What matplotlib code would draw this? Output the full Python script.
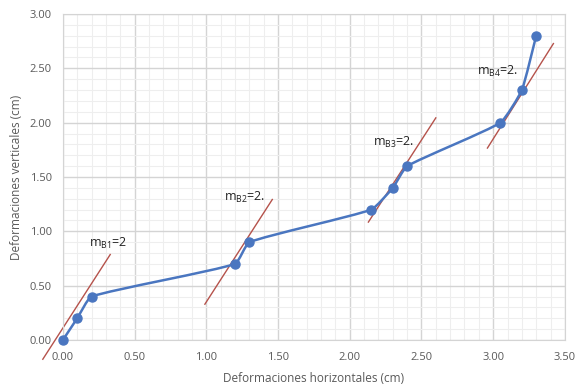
import numpy as np
import matplotlib
matplotlib.use("Agg")
import matplotlib.pyplot as plt
from matplotlib.path import Path
from matplotlib.patches import PathPatch

# ========== DATA ==========
def_h = [0.00, 0.10, 0.20, 1.20, 1.30, 2.15, 2.30, 2.40, 3.05, 3.20, 3.30]
def_v = [0.00, 0.20, 0.40, 0.70, 0.90, 1.20, 1.40, 1.60, 2.00, 2.30, 2.80]

# tangent lines: (x start, x end, slope, intercept)
tan_x0 = [-0.14, 0.99, 2.13, 2.96]
tan_x1 = [0.33, 1.46, 2.60, 3.42]
tan_m = [2.05, 2.05, 2.04, 2.09]
tan_b = [0.11, -1.70, -3.26, -4.42]

labels = ["m$_{B1}$=2", "m$_{B2}$=2.", "m$_{B3}$=2.", "m$_{B4}$=2."]
label_x = [0.18, 1.12, 2.16, 2.89]
label_y = [0.89, 1.31, 1.82, 2.47]

x_ticks = np.arange(0, 3.51, 0.5)
y_ticks = np.arange(0, 3.01, 0.5)

plt.rcParams["font.family"] = ["Open Sans", "DejaVu Sans"]
plt.rcParams["mathtext.fontset"] = "custom"
plt.rcParams["mathtext.rm"] = "Open Sans"
plt.rcParams["mathtext.it"] = "Open Sans"

fig = plt.figure(figsize=(5.77, 3.89), dpi=100)
ax = fig.add_axes([0.109, 0.126, 0.870, 0.838])

blue = "#4a76c0"
red = "#b5524b"
grey = "#595959"


# smooth curve like a spreadsheet "smoothed line", drawn in pixel space
def smooth_path(xs, ys, k=0.15):
    pts = ax.transData.transform(np.column_stack([xs, ys]))
    n = len(pts)
    tang = []
    for i in range(n):
        a = pts[max(i - 1, 0)]
        b = pts[min(i + 1, n - 1)]
        d = b - a
        tang.append(d / np.hypot(*d))
    verts = [pts[0]]
    codes = [Path.MOVETO]
    for i in range(n - 1):
        L = np.hypot(*(pts[i + 1] - pts[i]))
        verts += [pts[i] + tang[i] * L * k, pts[i + 1] - tang[i + 1] * L * k, pts[i + 1]]
        codes += [Path.CURVE4] * 3
    return Path(verts, codes)


ax.set_xlim(0, 3.5)
ax.set_ylim(0, 3.0)

ax.add_patch(PathPatch(smooth_path(def_h, def_v), fill=False, edgecolor=blue,
                       lw=1.8, zorder=3, capstyle="round", transform=None))
ax.plot(def_h, def_v, "o", color=blue, ms=6.5, zorder=4, clip_on=False)

for x0, x1, m, b in zip(tan_x0, tan_x1, tan_m, tan_b):
    xs = np.array([x0, x1])
    ax.plot(xs, m * xs + b, color=red, lw=1.0, zorder=2, clip_on=False)

for txt, lx, ly in zip(labels, label_x, label_y):
    ax.text(lx, ly, txt, fontsize=9, color="#222222", va="center", ha="left", zorder=5)

ax.set_xticks(x_ticks)
ax.set_yticks(y_ticks)
ax.set_xticklabels(["{:.2f}".format(v) for v in x_ticks])
ax.set_yticklabels(["{:.2f}".format(v) for v in y_ticks])
ax.set_xticks(np.arange(0, 3.51, 0.1), minor=True)
ax.set_yticks(np.arange(0, 3.01, 0.1), minor=True)
ax.grid(which="major", color="#d4d4d4", lw=1.0, zorder=0)
ax.grid(which="minor", color="#eeeeee", lw=0.8, zorder=0)
ax.set_axisbelow(True)
ax.tick_params(which="both", length=0, labelsize=8, labelcolor=grey)
ax.tick_params(axis="x", pad=9)
ax.tick_params(axis="y", pad=8)
for s in ax.spines.values():
    s.set_color("#d4d4d4")

ax.set_xlabel("Deformaciones horizontales (cm)", fontsize=8.5, color=grey, labelpad=6)
ax.set_ylabel("Deformaciones verticales (cm)", fontsize=8.5, color=grey, labelpad=5)

fig.savefig("out.png", dpi=100)
